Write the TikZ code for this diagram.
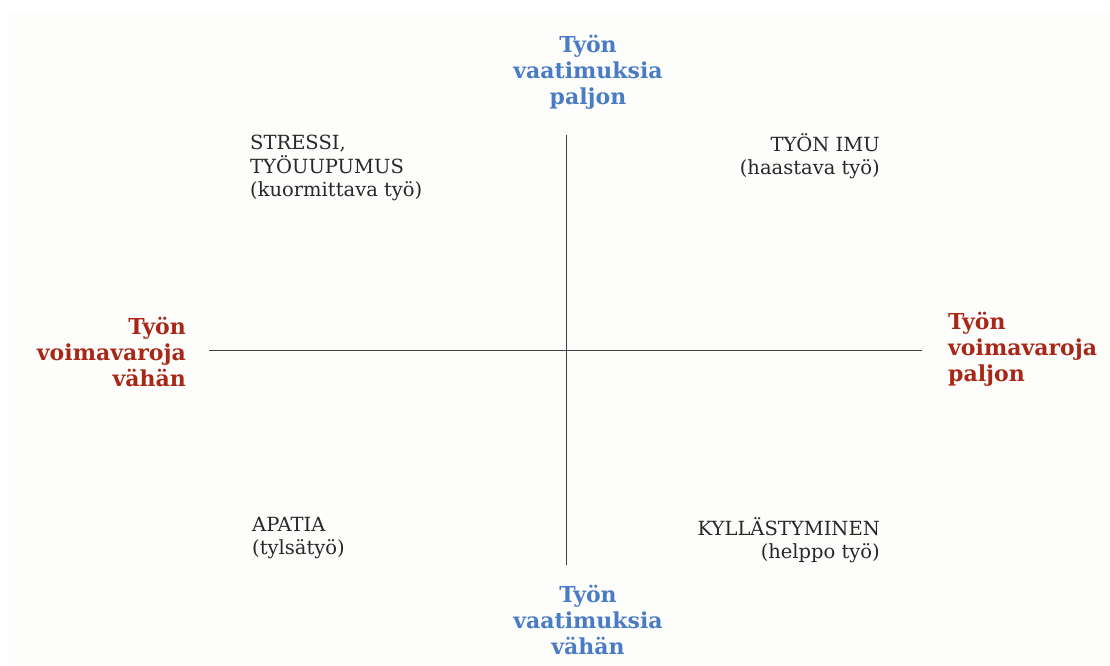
\documentclass[tikz,border=0pt]{standalone}
\usepackage{fontspec}
\setmainfont{DejaVu Serif}
\usepackage{xcolor}
\definecolor{demandblue}{RGB}{74,124,196}
\definecolor{resred}{RGB}{168,40,24}
\definecolor{quadgray}{RGB}{40,40,40}
\definecolor{paper}{RGB}{253,253,252}
\tikzset{
  axislabel/.style = {font=\bfseries\fontsize{22}{26}\selectfont, align=center, inner sep=0pt},
  quadtext/.style = {font=\fontsize{19.5}{23.5}\selectfont, text=quadgray, inner sep=0pt},
  axisline/.style = {draw=black!75, line width=0.9pt}
}

\begin{document}
\begin{tikzpicture}[x=1pt, y=-1pt]
  \useasboundingbox (0,0) rectangle (1110,666);
  \fill[paper] (8,13) rectangle (1110,666);

  % axes
  \coordinate (top) at (566,135);
  \coordinate (bottom) at (566,565);
  \coordinate (left) at (209,350);
  \coordinate (right) at (922,350);
  \draw[axisline] (top) -- (bottom);
  \draw[axisline] (left) -- (right);

  % axis labels
  \node[axislabel, text=demandblue] (demhigh) at (588,72) {Työn\\vaatimuksia\\paljon};
  \node[axislabel, text=demandblue] (demlow) at (588,620) {Työn\\vaatimuksia\\vähän};
  \node[axislabel, text=resred, align=right, anchor=east] (reslow) at (186,352) {Työn\\voimavaroja\\vähän};
  \node[axislabel, text=resred, align=left, anchor=west] (reshigh) at (948,349) {Työn\\voimavaroja\\paljon};

  % quadrants
  \node[quadtext, align=left, anchor=north west] (stress) at (250,135) {STRESSI,\\TYÖUUPUMUS\\(kuormittava työ)};
  \node[quadtext, align=right, anchor=north east] (imu) at (880,133) {TYÖN IMU\\(haastava työ)};
  \node[quadtext, align=left, anchor=north west] (apatia) at (252,517) {APATIA\\(tylsätyö)};
  \node[quadtext, align=right, anchor=north east] (kyll) at (880,517) {KYLLÄSTYMINEN\\(helppo työ)};

\end{tikzpicture}
\end{document}
